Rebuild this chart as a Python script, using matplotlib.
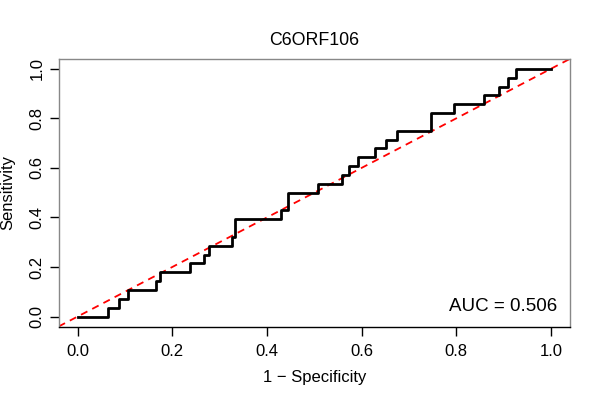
import matplotlib
matplotlib.use("Agg")
import matplotlib.pyplot as plt
import numpy as np

plt.rcParams['font.family'] = ['Liberation Sans', 'DejaVu Sans']

title = "C6ORF106"
auc_label = "AUC = 0.506"
xticks = [0.0, 0.2, 0.4, 0.6, 0.8, 1.0]
yticks = [0.0, 0.2, 0.4, 0.6, 0.8, 1.0]

# step-curve corner points (1 - specificity, sensitivity)
fpr = [0, 0.065, 0.088, 0.107, 0.165, 0.175, 0.237, 0.267, 0.278, 0.326, 0.332,
       0.429, 0.444, 0.509, 0.559, 0.573, 0.592, 0.629, 0.652, 0.674, 0.746,
       0.796, 0.859, 0.890, 0.909, 0.927, 1.0]
tpr_cases = [0, 1, 2, 3, 4, 5, 6, 7, 8, 9, 11, 12, 14, 15, 16, 17, 18, 19, 20, 21,
             23, 24, 25, 26, 27, 28, 28]
n_cases = 28
tpr = [c / n_cases for c in tpr_cases]

fig = plt.figure(figsize=(6, 4), dpi=100)
ax = fig.add_axes([0.0977, 0.18375, 0.852, 0.669])

ax.set_xlim(-0.04, 1.04)
ax.set_ylim(-0.04, 1.04)

ax.plot([-0.04, 1.04], [-0.04, 1.04], color='red', lw=1.3, dashes=[4, 3], zorder=2)
ax.plot(fpr, tpr, drawstyle='steps-post', color='black', lw=2, zorder=3)

ax.set_xticks(xticks)
ax.set_yticks(yticks)
ax.set_xticklabels([f"{v:.1f}" for v in xticks])
ax.set_yticklabels([f"{v:.1f}" for v in yticks], rotation=90, va='center')
ax.tick_params(axis='both', length=6.3, width=1, labelsize=12, color='black')
ax.tick_params(axis='x', pad=6)
ax.tick_params(axis='y', pad=4)

for side in ['top', 'right', 'left']:
    ax.spines[side].set_color('#888888')
ax.spines['bottom'].set_color('black')
for s in ax.spines.values():
    s.set_linewidth(1)

ax.set_xlabel("1 \u2212 Specificity", fontsize=12, labelpad=8)
ax.set_ylabel("Sensitivity", fontsize=12, labelpad=10)
ax.set_title(title, fontsize=12.8, pad=10)

ax.text(1.013, 0.024, auc_label, ha='right', va='baseline', fontsize=13.5)

fig.savefig("out.png", dpi=100)
